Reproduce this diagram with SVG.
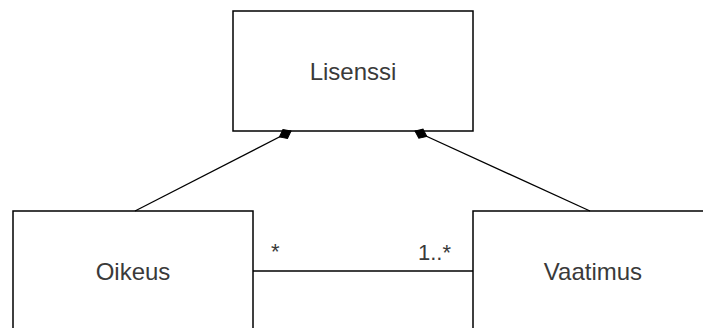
<svg xmlns="http://www.w3.org/2000/svg" width="703" height="328" viewBox="0 0 703 328">
<style>
.box{fill:#fff;stroke:#000;stroke-width:1.5}
.lbl{font-family:"Liberation Sans",Arial,sans-serif;font-size:24px;fill:#3a3a3a;text-anchor:middle}
.mul{font-family:"Liberation Sans",Arial,sans-serif;font-size:22px;fill:#3a3a3a}
.edge{fill:none;stroke:#000;stroke-width:1.3}
</style>
<defs>
<marker id="dia" markerUnits="userSpaceOnUse" orient="auto" refX="0" refY="0" markerWidth="16" markerHeight="12" viewBox="-14 -6 16 12" overflow="visible">
<path d="M0,0 L-6.5,-5 L-13,0 L-6.5,5 Z" fill="#000" stroke="#000" stroke-width="1"/>
</marker>
</defs>
<g id="lisenssi">
<rect class="box" x="233" y="11" width="240" height="120"/>
<text class="lbl" x="353" y="80">Lisenssi</text>
</g>
<g id="oikeus">
<rect class="box" x="13" y="211" width="240" height="120"/>
<text class="lbl" x="133" y="280">Oikeus</text>
</g>
<g id="vaatimus">
<rect class="box" x="473" y="211" width="240" height="120"/>
<text class="lbl" x="593" y="280">Vaatimus</text>
</g>
<g id="connectors">
<line class="edge" x1="135" y1="211" x2="291" y2="131" marker-end="url(#dia)"/>
<line class="edge" x1="590" y1="211" x2="415" y2="131" marker-end="url(#dia)"/>
<line class="edge" x1="253" y1="271" x2="473" y2="271"/>
<text class="mul" x="271" y="259">*</text>
<text class="mul" x="418" y="260">1..*</text>
</g>
</svg>
